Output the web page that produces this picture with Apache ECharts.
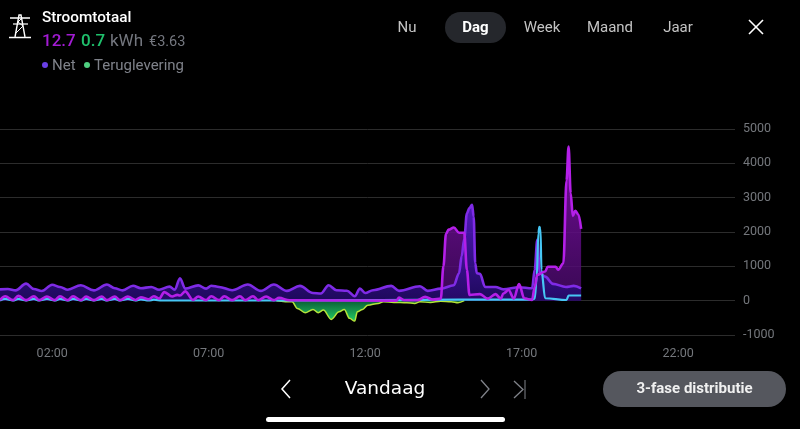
<!DOCTYPE html>
<html>
<head>
<meta charset="utf-8">
<script src="https://cdn.jsdelivr.net/npm/echarts@6/dist/echarts.min.js"></script>
<style>
    html, body { margin: 0; padding: 0; background: #000; }
    #main { width: 800px; height: 429px; }
</style>
</head>
<body>
<div id="main"></div>
<script>
// x values are minutes since midnight, y values are watts
const tickMinutes = [120, 420, 720, 1020, 1320]
const tickLabels = ["02:00", "07:00", "12:00", "17:00", "22:00"]

const netMinutes = [20, 35, 50, 70, 85, 100, 120, 135, 150, 175, 200, 225, 240, 255, 275, 290, 310, 325, 345, 355, 365, 375, 400, 415, 425, 440, 465, 495, 520, 545, 570, 595, 620, 635, 650, 665, 685, 700, 710, 720, 735, 770, 785, 825, 840, 865, 890, 900, 905, 910, 915, 920, 925, 928, 931, 934, 940, 950, 970, 985, 1015, 1040, 1045, 1050, 1055, 1065, 1080, 1105, 1120, 1134]
const netWatts = [330, 340, 300, 495, 340, 280, 465, 400, 320, 450, 300, 470, 360, 300, 435, 360, 400, 320, 410, 320, 655, 350, 445, 350, 435, 400, 305, 470, 285, 470, 285, 430, 225, 210, 450, 305, 290, 130, 350, 225, 305, 430, 285, 420, 285, 350, 450, 800, 1300, 1800, 2540, 2700, 2790, 2450, 1090, 800, 780, 400, 400, 330, 390, 360, 900, 1770, 800, 700, 490, 400, 430, 360]

const phaseMinutes = [20, 30, 45, 55, 70, 85, 95, 110, 125, 135, 150, 160, 175, 185, 200, 215, 225, 240, 250, 265, 280, 290, 305, 315, 325, 335, 350, 360, 365, 375, 390, 400, 415, 425, 440, 450, 465, 480, 490, 505, 515, 530, 545, 555, 575, 780, 785, 795, 820, 835, 850, 865, 870, 875, 880, 890, 900, 910, 915, 920, 940, 955, 970, 980, 985, 995, 1005, 1015, 1025, 1040, 1045, 1050, 1065, 1070, 1085, 1090, 1100, 1106, 1110, 1114, 1118, 1123, 1129, 1134]
const phaseWatts = [15, 130, 15, 140, 15, 130, 15, 120, 15, 130, 15, 130, 15, 120, 15, 120, 15, 120, 15, 120, 20, 100, 40, 130, 60, 250, 120, 170, 150, 270, 20, 120, 15, 130, 15, 130, 15, 130, 15, 130, 15, 120, 15, 80, 10, 0, 90, 10, 10, 110, 30, 60, 1000, 1950, 2070, 2130, 1980, 1980, 900, 165, 190, 60, 190, 60, 210, 310, 60, 485, 70, 20, 400, 750, 850, 990, 990, 900, 1090, 3500, 4490, 3130, 2470, 2620, 2500, 2090]

const solarMinutes = [20, 30, 45, 55, 70, 85, 95, 110, 125, 135, 150, 160, 175, 185, 200, 215, 225, 240, 250, 265, 280, 290, 305, 315, 330, 375, 480, 550, 600, 900, 1040, 1045, 1049, 1052, 1054, 1056, 1058, 1065, 1106, 1110, 1134]
const solarWatts = [5, 50, 5, 50, 5, 50, 5, 50, 5, 50, 5, 50, 5, 50, 5, 50, 5, 50, 5, 50, 5, 40, 5, 30, 5, 5, 5, 5, 5, 30, 30, 60, 700, 1960, 2150, 2100, 890, 70, 20, 150, 150]

const returnMinutes = [550, 580, 590, 605, 620, 630, 640, 655, 670, 680, 690, 700, 705, 715, 725, 745, 755, 775, 800, 815, 825, 845, 865, 885, 898, 910]
const returnWatts = [0, -35, -225, -350, -255, -350, -275, -545, -325, -255, -515, -595, -325, -255, -130, -80, -35, -50, -60, -80, -35, -50, -15, -30, -60, 0]

const yMin = -1000
const yMax = 5000
const yStep = 1000

function pairs(xs, ys) {
    return xs.map((x, i) => [x, ys[i]])
}

function gradient(top, bottom) {
    return {
        type: 'linear', x: 0, y: 0, x2: 0, y2: 1,
        colorStops: [{ offset: 0, color: top }, { offset: 1, color: bottom }]
    }
}

function flowLine(data, lineColor, fill, width) {
    return {
        type: 'line',
        data: data,
        smooth: 0.35,
        smoothMonotone: 'x',
        showSymbol: false,
        silent: true,
        lineStyle: { color: lineColor, width: width },
        areaStyle: fill ? { color: fill, origin: 0, opacity: 1 } : undefined
    }
}

// small helpers for the app chrome around the chart
function label(text, x, y, size, color, extra) {
    return {
        type: 'text',
        x: x, y: y,
        silent: true,
        style: Object.assign({
            text: text,
            fontSize: size,
            fontFamily: 'Roboto',
            fill: color,
            verticalAlign: 'middle'
        }, extra || {})
    }
}

function stroke(points, color, width) {
    return {
        type: 'polyline',
        silent: true,
        shape: { points: points },
        style: { stroke: color, lineWidth: width, fill: null }
    }
}

function dot(x, y, color) {
    return { type: 'circle', silent: true, shape: { cx: x, cy: y, r: 3 }, style: { fill: color } }
}

function pill(x, y, w, h, color) {
    return {
        type: 'rect',
        silent: true,
        shape: { x: x, y: y, width: w, height: h, r: h / 2 },
        style: { fill: color }
    }
}

const chrome = [
    // pylon icon
    stroke([[9, 37.5], [31, 37.5]], '#fff', 1.5),
    stroke([[10, 18], [30, 18]], '#fff', 1.5),
    stroke([[13, 24], [28, 24]], '#fff', 1.2),
    stroke([[15, 37], [19, 15], [21, 15], [25, 37]], '#fff', 1.4),
    stroke([[16, 33], [23, 26], [18, 22], [22, 18]], '#fff', 1),

    label("Stroomtotaal", 42, 18, 15.3, '#fff', { fontWeight: 500 }),
    label("12.7", 42, 42, 17, '#a31cd4', { fontWeight: 500 }),
    label("0.7", 81, 42, 17, '#1fc06c', { fontWeight: 500 }),
    label("kWh", 110, 42, 17, '#74777f'),
    label("€3.63", 149, 42, 14.5, '#74777f'),

    dot(45, 65, '#6a3fe6'),
    label("Net", 52, 66, 15, '#7f828a'),
    dot(87, 65, '#4fcf80'),
    label("Teruglevering", 94, 66, 15, '#7f828a'),

    label("Nu", 407, 28.5, 15, '#c4c4c4', { align: 'center' }),
    pill(445, 12, 61, 31, '#25272c'),
    label("Dag", 475.5, 28.5, 15, '#fff', { align: 'center', fontWeight: 'bold' }),
    label("Week", 542, 28.5, 15, '#c4c4c4', { align: 'center' }),
    label("Maand", 610, 28.5, 15, '#c4c4c4', { align: 'center' }),
    label("Jaar", 678, 28.5, 15, '#c4c4c4', { align: 'center' }),
    stroke([[749, 20], [763, 34]], '#fff', 1.6),
    stroke([[763, 20], [749, 34]], '#fff', 1.6),

    stroke([[290, 380], [282, 389], [290, 398]], '#fff', 1.5),
    label("Vandaag", 385, 389, 18.5, '#fff', { align: 'center', fontFamily: 'DejaVu Sans' }),
    stroke([[481, 380], [489, 389], [481, 398]], '#80838a', 1.3),
    stroke([[514, 381], [523, 389.5], [514, 398]], '#80838a', 1.3),
    stroke([[525, 380], [525, 399]], '#80838a', 1),
    pill(603, 371, 183, 36, '#55575e'),
    label("3-fase distributie", 694.5, 389, 15, '#f0f0f0', { align: 'center', fontWeight: 'bold' }),
    pill(266, 417, 239, 5, '#fff')
]

var myChart = echarts.init(document.getElementById('main'))

var option = {
    animation: false,
    backgroundColor: '#000',
    grid: { left: 0, right: 65, top: 129, bottom: 94 },
    xAxis: {
        type: 'value',
        min: 20,
        max: 1429,
        splitLine: { show: false },
        axisLine: { show: false },
        axisTick: { show: false },
        axisLabel: {
            customValues: tickMinutes,
            formatter: value => tickLabels[tickMinutes.indexOf(value)],
            color: '#74777c',
            fontSize: 12.5,
            fontFamily: 'Roboto',
            margin: 12
        }
    },
    yAxis: {
        type: 'value',
        position: 'right',
        min: yMin,
        max: yMax,
        interval: yStep,
        splitLine: { lineStyle: { color: '#2c2c2c', width: 1 } },
        axisLine: { show: false },
        axisTick: { show: false },
        axisLabel: {
            formatter: value => String(value),
            color: '#74777c',
            fontSize: 12.5,
            fontFamily: 'Roboto',
            margin: 8,
            padding: [0, 0, 12, 0]
        }
    },
    // phase fill goes under the net area, its line goes back on top
    series: [
        flowLine(pairs(phaseMinutes, phaseWatts), 'rgba(0,0,0,0)',
            gradient('rgba(125,15,165,0.95)', 'rgba(72,10,105,0.8)'), 0),
        flowLine(pairs(netMinutes, netWatts), '#7f2be6',
            gradient('rgba(88,28,205,0.92)', 'rgba(34,10,105,0.88)'), 2.6),
        flowLine(pairs(returnMinutes, returnWatts), '#b4e43a',
            gradient('rgba(10,95,55,1)', 'rgba(34,205,100,1)'), 1.5),
        flowLine(pairs(solarMinutes, solarWatts), '#46c6f4', null, 2.2),
        flowLine(pairs(phaseMinutes, phaseWatts), '#b41fe8', null, 2.6)
    ],
    graphic: chrome
}

myChart.setOption(option)
</script>
</body>
</html>
